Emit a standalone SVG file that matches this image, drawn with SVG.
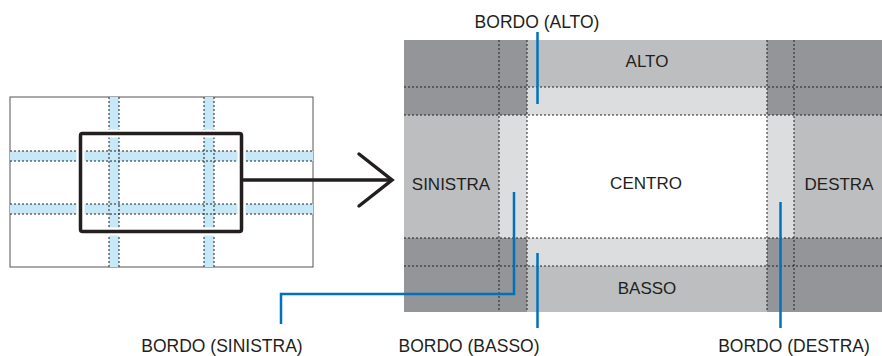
<svg xmlns="http://www.w3.org/2000/svg" width="882" height="356" viewBox="0 0 882 356">
<style>
.t{font-family:"Liberation Sans",Arial,sans-serif;font-size:17px;fill:#231f20;text-anchor:middle}
.lb{font-size:17.5px}
.dot{stroke:#231f20;stroke-width:1;stroke-dasharray:2 2;fill:none}
.strip{fill:#c7e9f7}
.dk{fill:#939598}.md{fill:#bcbec0}.lt{fill:#dcdddf}
.blue{stroke:#0072bc;stroke-width:2.5;fill:none}
</style>
<rect width="882" height="356" fill="#ffffff"/>
<g id="screen">
<rect x="10" y="97" width="303" height="170" fill="#fff" stroke="#555" stroke-width="1"/>
<rect class="strip" x="109" y="97" width="10" height="170"/>
<rect class="strip" x="204" y="97" width="10" height="170"/>
<rect class="strip" x="10" y="151" width="303" height="10"/>
<rect class="strip" x="10" y="204" width="303" height="10"/>
<path class="dot" d="M109,97V267M119,97V267M204,97V267M214,97V267M10,151H313M10,161H313M10,204H313M10,214H313"/>
<rect x="80.5" y="133.5" width="161" height="98" rx="2" fill="none" stroke="#fff" stroke-width="8"/>
<rect x="80.5" y="133.5" width="161" height="98" rx="2" fill="none" stroke="#231f20" stroke-width="3.5"/>
</g>
<g id="regions">
<rect class="dk" x="404" y="40" width="123" height="75"/>
<rect class="dk" x="767" y="40" width="115" height="75"/>
<rect class="dk" x="404" y="238" width="123" height="74"/>
<rect class="dk" x="767" y="238" width="115" height="74"/>
<rect class="md" x="527" y="40" width="240" height="47"/>
<rect class="lt" x="527" y="87" width="240" height="28"/>
<rect class="md" x="404" y="115" width="95" height="123"/>
<rect class="lt" x="499" y="115" width="28" height="123"/>
<rect class="md" x="794" y="115" width="88" height="123"/>
<rect class="lt" x="767" y="115" width="27" height="123"/>
<rect class="md" x="527" y="266" width="240" height="46"/>
<rect class="lt" x="527" y="238" width="240" height="28"/>
<path class="dot" d="M499,40V312M527,40V312M767,40V312M794,40V312M404,87H882M404,115H882M404,238H882M404,266H882"/>
<text class="t" x="647" y="67">ALTO</text>
<text class="t" x="451" y="190">SINISTRA</text>
<text class="t" x="646" y="189">CENTRO</text>
<text class="t" x="839" y="190">DESTRA</text>
<text class="t" x="647" y="294">BASSO</text>
</g>
<g id="connectors">
<path d="M243,180H391" stroke="#231f20" stroke-width="3.5" fill="none"/>
<polyline points="359,154 392,180 359,206" stroke="#231f20" stroke-width="3.5" fill="none" stroke-linecap="round" stroke-linejoin="miter"/>
<path class="blue" d="M537.5,32V104"/>
<path class="blue" d="M514,192V294H281V324"/>
<path class="blue" d="M537.5,253V328"/>
<path class="blue" d="M780.5,202V328"/>
</g>
<g id="labels">
<text class="t lb" x="537" y="28">BORDO (ALTO)</text>
<text class="t lb" x="222" y="352">BORDO (SINISTRA)</text>
<text class="t lb" x="469" y="352">BORDO (BASSO)</text>
<text class="t lb" x="794" y="352">BORDO (DESTRA)</text>
</g>
</svg>
